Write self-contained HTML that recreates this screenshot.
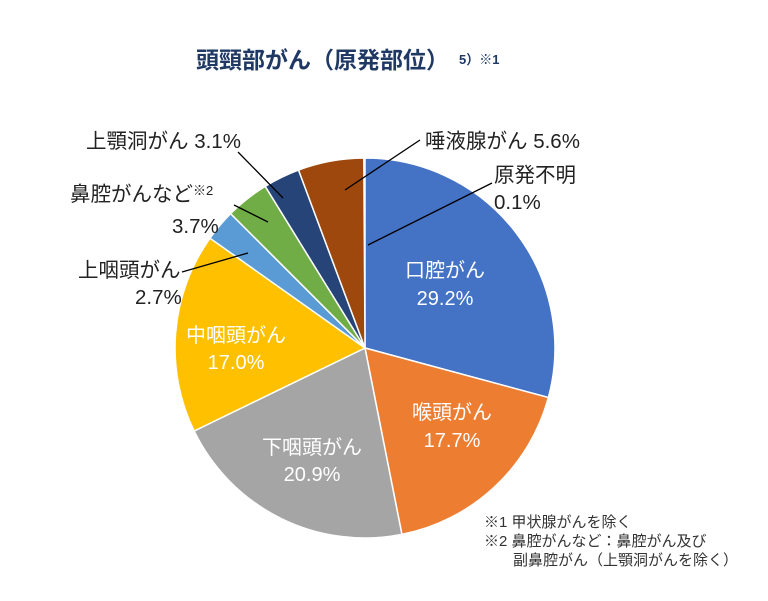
<!DOCTYPE html>
<html><head><meta charset="utf-8"><style>
body{margin:0;background:#fff;}
svg{display:block;font-family:"Liberation Sans","Noto Sans CJK JP",sans-serif;}
</style></head><body>
<svg width="768" height="601" viewBox="0 0 768 601">
<rect width="768" height="601" fill="#fff"/>
<text x="196" y="68" font-size="23" font-weight="bold" fill="#1F3864">頭頸部がん（原発部位）</text>
<text x="459" y="64" font-size="13" font-weight="bold" fill="#1F3864">5）※1</text>
<g stroke="#fff" stroke-width="1.5">
<path d="M365,348 L365,158 A190,190 0 0 1 548.4,397.5 Z" fill="#4472C4"/>
<path d="M365,348 L548.4,397.5 A190,190 0 0 1 401.9,534.4 Z" fill="#ED7D31"/>
<path d="M365,348 L401.9,534.4 A190,190 0 0 1 194.1,431 Z" fill="#A5A5A5"/>
<path d="M365,348 L194.1,431 A190,190 0 0 1 210,238.2 Z" fill="#FFC000"/>
<path d="M365,348 L210,238.2 A190,190 0 0 1 230.6,213.6 Z" fill="#5B9BD5"/>
<path d="M365,348 L230.6,213.6 A190,190 0 0 1 265.2,186.3 Z" fill="#70AD47"/>
<path d="M365,348 L265.2,186.3 A190,190 0 0 1 298.5,170 Z" fill="#264478"/>
<path d="M365,348 L298.5,170 A190,190 0 0 1 363.8,158 Z" fill="#9E480E"/>
</g>
<g stroke="#000" stroke-width="1.3">
<line x1="345" y1="190" x2="420" y2="140"/>
<line x1="368" y1="245" x2="492" y2="183"/>
<line x1="283" y1="198" x2="238" y2="152"/>
<line x1="268" y1="222" x2="234" y2="205"/>
<line x1="248" y1="253" x2="182" y2="272"/>
</g>
<g font-size="20" fill="#fff" text-anchor="middle">
<text x="445" y="277">口腔がん</text><text x="445" y="305">29.2%</text>
<text x="452" y="419">喉頭がん</text><text x="452" y="447">17.7%</text>
<text x="312" y="454">下咽頭がん</text><text x="312" y="481">20.9%</text>
<text x="236" y="342">中咽頭がん</text><text x="236" y="369">17.0%</text>
</g>
<g font-size="20.5" fill="#222">
<text x="425" y="148">唾液腺がん 5.6%</text>
<text x="494" y="182">原発不明</text><text x="494" y="209">0.1%</text>
<text x="86" y="148">上顎洞がん 3.1%</text>
<text x="70" y="201">鼻腔がんなど<tspan font-size="13" dy="-6">※2</tspan></text>
<text x="172" y="233">3.7%</text>
<text x="78" y="277">上咽頭がん</text><text x="135" y="304">2.7%</text>
</g>
<g font-size="15" fill="#333">
<text x="484" y="527">※1 甲状腺がんを除く</text>
<text x="484" y="546">※2 鼻腔がんなど：鼻腔がん及び</text>
<text x="513" y="565">副鼻腔がん（上顎洞がんを除く）</text>
</g>
</svg>
</body></html>
